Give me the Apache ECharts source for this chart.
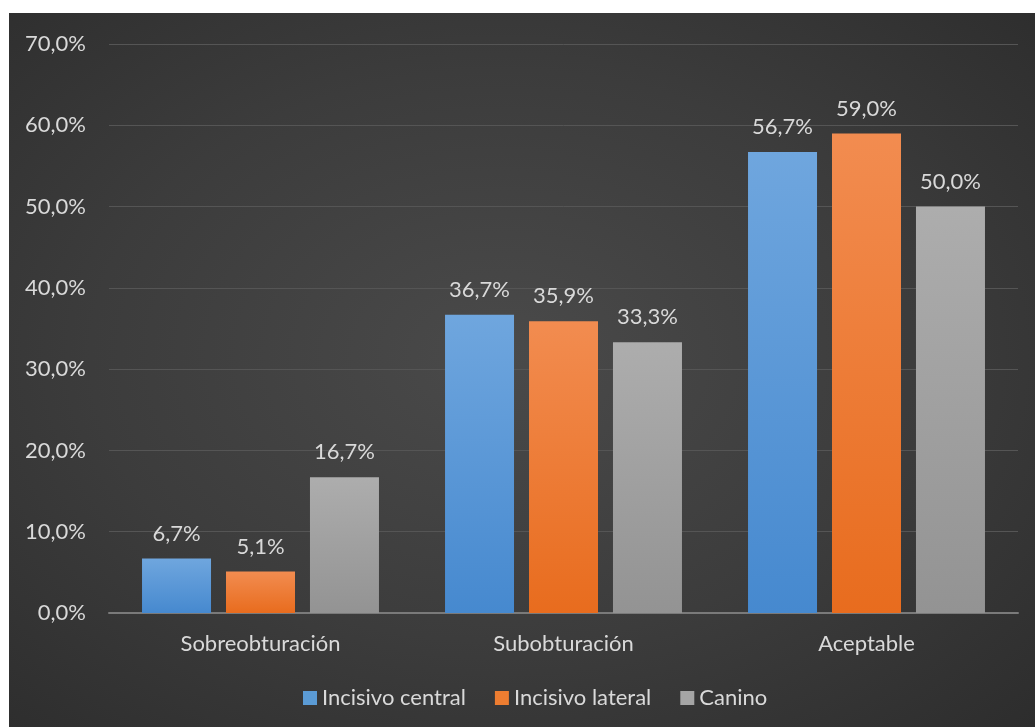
<!DOCTYPE html>
<html>
<head>
<meta charset="utf-8">
<script src="https://cdn.jsdelivr.net/npm/echarts@6/dist/echarts.min.js"></script>
<style>
html,body{margin:0;padding:0;background:#fff;}
#wrap{position:absolute;left:9px;top:13px;width:1026px;height:714px;
background:radial-gradient(ellipse 80% 80% at 48% 48%, #4a4a4a 0%, #3c3c3c 50%, #2a2a2a 100%);}
#c{width:1026px;height:714px;}
</style>
</head>
<body>
<div id="wrap"><div id="c"></div></div>
<script>
const categories = ['Sobreobturación', 'Subobturación', 'Aceptable'];
const seriesNames = ['Incisivo central', 'Incisivo lateral', 'Canino'];
const incisivoCentral = [6.7, 36.7, 56.7];
const incisivoLateral = [5.1, 35.9, 59.0];
const canino = [16.7, 33.3, 50.0];
const yTicks = [0, 10, 20, 30, 40, 50, 60, 70];

const fmt = v => v.toFixed(1).replace('.', ',') + '%';
const grad = (a, b) => new echarts.graphic.LinearGradient(0, 0, 0, 1, [{offset: 0, color: a}, {offset: 1, color: b}]);
const colors = [grad('#6fa6de', '#4689cf'), grad('#f28c50', '#e86c1e'), grad('#adadad', '#939393')];
const legendColors = ['#5b9bd5', '#ed7d31', '#a5a5a5'];
const font = 'Lato, "Open Sans", sans-serif';
const FS = 22;

const chart = echarts.init(document.getElementById('c'));
const datasets = [incisivoCentral, incisivoLateral, canino];
chart.setOption({
  backgroundColor: 'transparent',
  animation: false,
  textStyle: {fontFamily: font},
  grid: {left: 100, right: 17, top: 31, bottom: 114, containLabel: false},
  legend: {
    bottom: 13, left: 289, itemWidth: 14, itemHeight: 14, itemGap: 29,
    icon: 'rect',
    textStyle: {color: '#d9d9d9', fontSize: FS, fontFamily: font},
    data: seriesNames.map((n, i) => ({name: n, itemStyle: {color: legendColors[i]}}))
  },
  xAxis: {
    type: 'category', data: categories,
    axisLine: {lineStyle: {color: '#7a7a7a', width: 2}},
    axisTick: {show: false},
    axisLabel: {color: '#d9d9d9', fontSize: FS, margin: 20, fontFamily: font}
  },
  yAxis: {
    type: 'value', min: 0, max: 70, interval: 10,
    axisLine: {show: false}, axisTick: {show: false},
    splitLine: {lineStyle: {color: '#555555', width: 1}},
    axisLabel: {color: '#d9d9d9', fontSize: FS, margin: 23, fontFamily: font,
      formatter: v => yTicks.includes(v) ? fmt(v) : ''}
  },
  series: datasets.map((d, i) => ({
    name: seriesNames[i], type: 'bar', data: d,
    barGap: '21.7%', barCategoryGap: '21.8%',
    itemStyle: {color: colors[i]},
    label: {show: true, position: 'top', distance: 14, color: '#d9d9d9', fontSize: FS, fontFamily: font, formatter: p => fmt(p.value)}
  }))
});
</script>
</body>
</html>
